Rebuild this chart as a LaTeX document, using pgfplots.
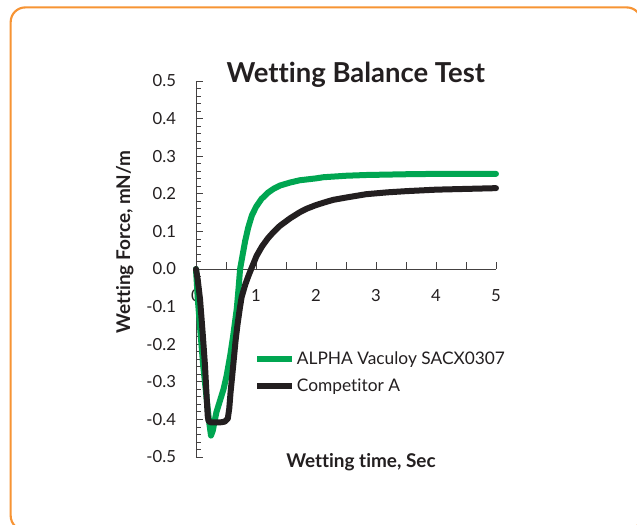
\documentclass[border=0pt]{standalone}
\usepackage{fontspec}
\setmainfont{Lato}[Ligatures=NoCommon]
\usepackage{pgfplots}
\pgfplotsset{compat=1.18}
\definecolor{alphagreen}{RGB}{0,166,81}
\definecolor{compblack}{RGB}{35,31,32}
\definecolor{frameorange}{RGB}{247,148,52}
\begin{document}
\begin{tikzpicture}
\useasboundingbox (0pt,0pt) rectangle (477.75pt,393.75pt);
\fill[white] (0pt,0pt) rectangle (477.75pt,393.75pt);
\draw[frameorange, line width=1.6pt, rounded corners=11pt] (8pt,-4pt) rectangle (481pt,388.2pt);
\begin{axis}[
  at={(147pt,51pt)}, anchor=south west,
  scale only axis, width=225pt, height=282pt,
  xmin=0, xmax=5, ymin=-0.5, ymax=0.5,
  axis x line=middle, axis y line=left,
  every inner x axis line/.append style={-},
  every outer y axis line/.append style={-},
  every outer x axis line/.append style={-},
  every inner y axis line/.append style={-},
  axis line style={-, draw=compblack!85, line width=0.6pt},
  tick style={draw=compblack!85, line width=0.6pt},
  tick align=inside,
  major tick length=5.5pt, minor tick length=3.5pt,
  hide obscured x ticks=false,
  xtick={0,0.5,1,1.5,2,2.5,3,3.5,4,4.5,5},
  xticklabels={0,,1,,2,,3,,4,,5},
  ytick={-0.5,-0.4,-0.3,-0.2,-0.1,0,0.1,0.2,0.3,0.4,0.5},
  minor y tick num=4,
  /pgf/number format/assume math mode=true,
  yticklabel={\pgfmathprintnumber[fixed,fixed zerofill,precision=1]{\tick}},
  ticklabel style={font=\fontsize{12.5}{14}\selectfont, text=compblack},
  xticklabel style={yshift=-12pt},
  yticklabel style={xshift=-11.5pt},
  clip=false,
  title={Wetting Balance Test},
  title style={at={(axis description cs:0.533,0.976)}, anchor=base, font=\bfseries\fontsize{20.6}{23}\selectfont, text=compblack},
  xlabel={Wetting time, Sec},
  xlabel style={at={(axis description cs:0.55,-0.027)}, anchor=base, font=\bfseries\fontsize{14.2}{16}\selectfont, text=compblack},
  ylabel={Wetting Force, mN/m},
  ylabel style={at={(axis description cs:-0.237,0.572)}, anchor=center, font=\bfseries\fontsize{14.2}{16}\selectfont, text=compblack},
  legend style={at={(axis description cs:0.194,0.285)}, anchor=north west, draw=none, fill=none, inner sep=0pt, outer sep=0pt,
    font=\fontsize{13}{15}\selectfont, text=compblack, row sep=6pt, nodes={inner sep=1.5pt}},
  legend cell align=left,
  legend image code/.code={\draw[#1, line width=4.5pt, line cap=butt] (0pt,0pt) -- (26pt,0pt);},
]
\addplot[alphagreen, line width=4.5pt, line join=round, line cap=round] coordinates {
(0,0) (0.03,-0.08) (0.07,-0.16) (0.12,-0.257) (0.18,-0.348) (0.22,-0.408) (0.25,-0.443)
(0.28,-0.43) (0.31,-0.405) (0.34,-0.381) (0.40,-0.35) (0.46,-0.319) (0.51,-0.284)
(0.57,-0.23) (0.62,-0.177) (0.68,-0.105) (0.71,-0.05) (0.735,0) (0.78,0.04) (0.82,0.075)
(0.87,0.11) (0.93,0.142) (1.0,0.165) (1.09,0.186) (1.2,0.203) (1.29,0.213) (1.4,0.222)
(1.57,0.23) (1.73,0.236) (2.0,0.241) (2.12,0.244) (2.5,0.248) (2.84,0.25) (3.5,0.252)
(4,0.253) (5,0.253)
};
\addlegendentry{ALPHA Vaculoy SACX0307}
\addplot[compblack, line width=4.5pt, line join=round, line cap=round] coordinates {
(0,0) (0.03,-0.03) (0.067,-0.08) (0.11,-0.168) (0.15,-0.257) (0.18,-0.348) (0.195,-0.39)
(0.21,-0.405) (0.25,-0.408) (0.40,-0.408) (0.48,-0.406) (0.53,-0.398) (0.555,-0.37)
(0.575,-0.33) (0.60,-0.29) (0.633,-0.235) (0.66,-0.19) (0.69,-0.15) (0.73,-0.105) (0.76,-0.075) (0.82,-0.042) (0.87,-0.02)
(0.92,0) (1.01,0.035) (1.1,0.06) (1.2,0.082) (1.29,0.098) (1.4,0.115) (1.57,0.135)
(1.73,0.151) (1.84,0.16) (2.0,0.17) (2.18,0.179) (2.29,0.184) (2.5,0.19) (2.84,0.199)
(3.2,0.204) (3.5,0.207) (4.0,0.211) (4.5,0.213) (5,0.215)
};
\addlegendentry{Competitor A}
\end{axis}
\end{tikzpicture}
\end{document}
